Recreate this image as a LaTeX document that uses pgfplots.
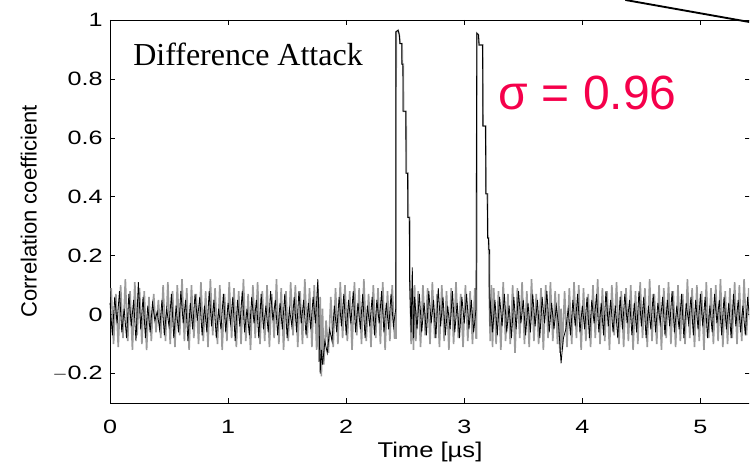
\documentclass[border=0pt]{standalone}
\usepackage{pgfplots}
\pgfplotsset{compat=1.18}
\usepackage{fontspec}
\setmainfont{Liberation Sans}
\newfontfamily\tickfont[FakeStretch=1.3]{Liberation Sans}
\newfontfamily\labfont[FakeStretch=1.2]{Liberation Sans}
\newfontfamily\timesfont{Liberation Serif}
\definecolor{sigred}{RGB}{245,0,75}
\definecolor{trgray}{RGB}{155,155,155}
\begin{document}
\begin{tikzpicture}
\useasboundingbox (-82.5pt,-45.75pt) rectangle (480pt,302.25pt);
\clip (-82.5pt,-45.75pt) rectangle (479.4pt,302.25pt);
\begin{axis}[
  at={(0pt,0pt)}, anchor=south west,
  scale only axis, width=480pt, height=287.25pt,
  xmin=0, xmax=5.42, ymin=-0.3, ymax=1,
  xtick={0,1,2,3,4,5}, ytick={-0.2,0,0.2,0.4,0.6,0.8,1},
  yticklabels={$-$0.2,0,0.2,0.4,0.6,0.8,1},
  tick align=inside, major tick length=4pt,
  tick style={black, line width=0.5pt},
  axis line style={line width=0.6pt},
  /pgf/number format/assume math mode=true,
  ticklabel style={font=\tickfont\fontsize{14.5}{16}\selectfont},
  xticklabel style={yshift=-9pt},
  yticklabel style={xshift=-2pt},
  xlabel={\labfont\fontsize{16}{18}\selectfont Time [µs]},
  ylabel={\fontsize{16.5}{18}\selectfont Correlation coefficient},
  xlabel style={yshift=0.5pt},
  ylabel style={yshift=5pt},
  clip=false,
]
\addplot[trgray, line width=1.2pt] coordinates {
(0.01,0.09)(0.03,-0.10)(0.05,0.07)(0.07,-0.11)(0.09,0.10)(0.11,-0.08)(0.13,0.12)(0.15,-0.09)(0.17,0.08)(0.19,-0.12)
(0.21,0.11)(0.23,-0.07)(0.25,0.09)(0.27,-0.10)(0.29,0.08)(0.31,-0.12)(0.33,0.06)(0.35,-0.09)(0.37,0.07)(0.39,-0.06)
(0.41,0.05)(0.43,-0.08)(0.45,0.10)(0.47,-0.09)(0.49,0.11)(0.51,-0.10)(0.53,0.08)(0.55,-0.11)(0.57,0.10)(0.59,-0.07)
(0.61,0.12)(0.63,-0.09)(0.65,0.09)(0.67,-0.12)(0.69,0.10)(0.71,-0.08)(0.73,0.07)(0.75,-0.10)(0.77,0.11)(0.79,-0.09)
(0.81,0.08)(0.83,-0.11)(0.85,0.12)(0.87,-0.07)(0.89,0.09)(0.91,-0.10)(0.93,0.10)(0.95,-0.12)(0.97,0.07)(0.99,-0.09)
(1.01,0.11)(1.03,-0.08)(1.05,0.09)(1.07,-0.11)(1.09,0.08)(1.11,-0.10)(1.13,0.12)(1.15,-0.09)(1.17,0.07)(1.19,-0.12)
(1.21,0.10)(1.23,-0.08)(1.25,0.11)(1.27,-0.10)(1.29,0.08)(1.31,-0.09)(1.33,0.10)(1.35,-0.11)(1.37,0.07)(1.39,-0.08)
(1.41,0.12)(1.43,-0.10)(1.45,0.09)(1.47,-0.12)(1.49,0.08)(1.51,-0.09)(1.53,0.11)(1.55,-0.07)(1.57,0.10)(1.59,-0.11)
(1.61,0.08)(1.63,-0.10)(1.65,0.12)(1.67,-0.08)(1.69,0.09)(1.71,-0.11)(1.73,0.10)(1.75,-0.12)(1.76,0.10)(1.77,-0.16)
(1.78,0.06)(1.79,-0.21)(1.80,0.02)(1.81,-0.17)(1.83,-0.02)(1.85,-0.13)(1.87,0.06)(1.89,-0.11)(1.91,0.09)(1.93,-0.10)
(1.95,0.11)(1.97,-0.08)(1.99,0.10)(2.01,-0.09)(2.03,0.08)(2.05,-0.12)(2.07,0.11)(2.09,-0.07)(2.11,0.09)(2.13,-0.10)
(2.15,0.12)(2.17,-0.09)(2.19,0.07)(2.21,-0.11)(2.23,0.10)(2.25,-0.08)(2.27,0.09)(2.29,-0.10)(2.31,0.11)(2.33,-0.12)
(2.35,0.08)(2.37,-0.09)(2.39,0.10)(2.41,-0.08)(2.422,-0.08)(2.424,0.96)(2.44,0.965)(2.45,0.95)(2.458,0.92)(2.474,0.92)
(2.476,0.85)(2.484,0.85)(2.486,0.69)(2.508,0.69)(2.51,0.48)(2.524,0.48)(2.526,0.33)(2.538,0.33)(2.54,0.12)
(2.55,-0.10)(2.56,0.09)(2.57,-0.12)(2.58,0.10)(2.59,-0.09)(2.61,0.08)(2.63,-0.11)(2.65,0.10)(2.67,-0.07)(2.69,0.09)
(2.71,-0.10)(2.73,0.11)(2.75,-0.08)(2.77,0.07)(2.79,-0.11)(2.81,0.10)(2.83,-0.09)(2.85,0.08)(2.87,-0.12)(2.89,0.09)
(2.91,-0.10)(2.93,0.11)(2.95,-0.08)(2.97,0.07)(2.99,-0.11)(3.01,0.10)(3.03,-0.09)(3.05,0.08)(3.07,-0.10)(3.09,0.09)
(3.10,-0.08)(3.105,-0.08)(3.107,0.955)(3.12,0.95)(3.127,0.915)(3.157,0.915)(3.16,0.64)(3.182,0.64)(3.185,0.41)(3.197,0.41)
(3.2,0.26)(3.207,0.26)(3.21,0.095)(3.22,-0.09)(3.23,0.10)(3.24,-0.11)(3.25,0.09)(3.27,-0.10)(3.29,0.08)(3.31,-0.12)
(3.33,0.11)(3.35,-0.09)(3.37,0.07)(3.39,-0.10)(3.41,0.10)(3.43,-0.13)(3.45,0.09)(3.47,-0.08)(3.49,0.11)(3.51,-0.10)
(3.53,0.08)(3.55,-0.11)(3.57,0.12)(3.59,-0.09)(3.61,0.07)(3.63,-0.10)(3.65,0.09)(3.67,-0.12)(3.69,0.10)(3.71,-0.08)
(3.73,0.11)(3.75,-0.09)(3.77,0.08)(3.79,-0.10)(3.80,0.07)(3.81,-0.13)(3.82,0.02)(3.83,-0.12)(3.85,0.08)(3.87,-0.11)
(3.89,0.09)(3.91,-0.10)(3.93,0.11)(3.95,-0.08)(3.97,0.10)(3.99,-0.12)(4.01,0.09)(4.03,-0.09)(4.05,0.07)(4.07,-0.11)
(4.09,0.10)(4.11,-0.08)(4.13,0.12)(4.15,-0.10)(4.17,0.09)(4.19,-0.09)(4.21,0.08)(4.23,-0.12)(4.25,0.10)(4.27,-0.07)
(4.29,0.11)(4.31,-0.10)(4.33,0.08)(4.35,-0.11)(4.37,0.09)(4.39,-0.09)(4.41,0.10)(4.43,-0.12)(4.45,0.08)(4.47,-0.10)
(4.49,0.11)(4.51,-0.08)(4.53,0.09)(4.55,-0.11)(4.57,0.12)(4.59,-0.09)(4.61,0.07)(4.63,-0.10)(4.65,0.10)(4.67,-0.12)
(4.69,0.09)(4.71,-0.08)(4.73,0.11)(4.75,-0.10)(4.77,0.08)(4.79,-0.11)(4.81,0.10)(4.83,-0.09)(4.85,0.07)(4.87,-0.10)
(4.89,0.12)(4.91,-0.08)(4.93,0.09)(4.95,-0.11)(4.97,0.10)(4.99,-0.09)(5.01,0.08)(5.03,-0.12)(5.05,0.11)(5.07,-0.08)
(5.09,0.09)(5.11,-0.10)(5.13,0.10)(5.15,-0.09)(5.17,0.12)(5.19,-0.11)(5.21,0.08)(5.23,-0.10)(5.25,0.09)(5.27,-0.08)
(5.29,0.11)(5.31,-0.10)(5.33,0.10)(5.35,-0.09)(5.37,0.12)(5.39,-0.07)(5.41,0.09)
};
\addplot[black, line width=0.6pt] coordinates {
(0.00,0.04)(0.02,-0.07)(0.04,0.06)(0.06,-0.03)(0.08,0.08)(0.10,-0.06)(0.12,0.02)(0.14,-0.08)(0.16,0.07)(0.18,-0.04)
(0.20,0.05)(0.22,-0.09)(0.24,0.11)(0.26,-0.05)(0.28,0.06)(0.30,-0.08)(0.32,0.03)(0.34,-0.06)(0.36,0.04)(0.38,-0.02)
(0.40,0.01)(0.42,-0.05)(0.44,0.05)(0.46,-0.07)(0.48,0.02)(0.50,-0.04)(0.52,0.07)(0.54,-0.08)(0.56,0.03)(0.58,-0.06)
(0.60,0.08)(0.62,-0.03)(0.64,0.05)(0.66,-0.09)(0.68,0.04)(0.70,-0.05)(0.72,0.07)(0.74,-0.02)(0.76,0.06)(0.78,-0.07)
(0.80,0.03)(0.82,-0.06)(0.84,0.08)(0.86,-0.04)(0.88,0.05)(0.90,-0.08)(0.92,0.02)(0.94,-0.05)(0.96,0.07)(0.98,-0.06)
(1.00,0.04)(1.02,-0.03)(1.04,0.06)(1.06,-0.09)(1.08,0.05)(1.10,-0.04)(1.12,0.08)(1.14,-0.06)(1.16,0.02)(1.18,-0.07)
(1.20,0.06)(1.22,-0.03)(1.24,0.05)(1.26,-0.08)(1.28,0.07)(1.30,-0.05)(1.32,0.03)(1.34,-0.06)(1.36,0.08)(1.38,-0.02)
(1.40,0.05)(1.42,-0.07)(1.44,0.04)(1.46,-0.05)(1.48,0.07)(1.50,-0.08)(1.52,0.02)(1.54,-0.04)(1.56,0.06)(1.58,-0.06)
(1.60,0.08)(1.62,-0.03)(1.64,0.05)(1.66,-0.07)(1.68,0.04)(1.70,-0.05)(1.72,0.06)(1.74,-0.03)(1.76,0.12)(1.77,-0.02)
(1.78,-0.20)(1.79,-0.12)(1.80,-0.17)(1.82,-0.09)(1.84,-0.13)(1.86,-0.05)(1.88,-0.09)(1.90,0.03)(1.92,-0.06)(1.94,0.06)
(1.96,-0.04)(1.98,0.07)(2.00,-0.07)(2.02,0.05)(2.04,-0.03)(2.06,0.08)(2.08,-0.06)(2.10,0.04)(2.12,-0.05)(2.14,0.07)
(2.16,-0.08)(2.18,0.03)(2.20,-0.04)(2.22,0.06)(2.24,-0.07)(2.26,0.05)(2.28,-0.03)(2.30,0.08)(2.32,-0.06)(2.34,0.04)
(2.36,-0.05)(2.38,0.07)(2.40,-0.04)(2.42,0.02)(2.421,0.96)(2.44,0.965)(2.45,0.95)(2.455,0.92)(2.47,0.92)(2.472,0.85)
(2.48,0.85)(2.482,0.69)(2.505,0.69)(2.507,0.48)(2.52,0.48)(2.522,0.33)(2.535,0.33)(2.537,0.12)(2.55,-0.06)(2.56,0.16)
(2.57,-0.08)(2.58,0.06)(2.60,-0.05)(2.62,0.07)(2.64,-0.06)(2.66,0.04)(2.68,-0.07)(2.70,0.08)(2.72,-0.03)(2.74,0.05)
(2.76,-0.08)(2.78,0.09)(2.80,-0.04)(2.82,0.06)(2.84,-0.07)(2.86,0.03)(2.88,-0.05)(2.90,0.08)(2.92,-0.06)(2.94,0.04)
(2.96,-0.08)(2.98,0.06)(3.00,-0.03)(3.02,0.07)(3.04,-0.05)(3.06,0.05)(3.08,-0.06)(3.10,0.02)(3.106,0.955)(3.12,0.95)
(3.125,0.915)(3.155,0.915)(3.158,0.64)(3.18,0.64)(3.183,0.41)(3.195,0.41)(3.198,0.26)(3.205,0.26)(3.208,0.22)(3.215,0.22)
(3.218,-0.04)(3.22,0.05)(3.24,-0.06)(3.26,0.05)(3.28,-0.07)(3.30,0.06)(3.32,-0.04)(3.34,0.07)(3.36,-0.06)(3.38,0.03)
(3.40,-0.08)(3.42,0.06)(3.44,-0.05)(3.46,0.08)(3.48,-0.03)(3.50,0.05)(3.52,-0.07)(3.54,0.04)(3.56,-0.06)(3.58,0.07)
(3.60,-0.04)(3.62,0.05)(3.64,-0.08)(3.66,0.06)(3.68,-0.03)(3.70,0.08)(3.72,-0.06)(3.74,0.04)(3.76,-0.05)(3.78,0.03)
(3.80,-0.04)(3.81,-0.10)(3.82,-0.165)(3.83,-0.12)(3.84,-0.08)(3.86,-0.05)(3.88,0.02)(3.90,-0.07)(3.92,0.05)(3.94,-0.04)
(3.96,0.07)(3.98,-0.06)(4.00,0.03)(4.02,-0.05)(4.04,0.06)(4.06,-0.08)(4.08,0.05)(4.10,-0.03)(4.12,0.07)(4.14,-0.06)
(4.16,0.04)(4.18,-0.07)(4.20,0.08)(4.22,-0.04)(4.24,0.05)(4.26,-0.06)(4.28,0.03)(4.30,-0.08)(4.32,0.06)(4.34,-0.05)
(4.36,0.07)(4.38,-0.03)(4.40,0.05)(4.42,-0.07)(4.44,0.04)(4.46,-0.06)(4.48,0.08)(4.50,-0.04)(4.52,0.06)(4.54,-0.08)
(4.56,0.03)(4.58,-0.05)(4.60,0.07)(4.62,-0.06)(4.64,0.04)(4.66,-0.03)(4.68,0.06)(4.70,-0.07)(4.72,0.05)(4.74,-0.04)
(4.76,0.08)(4.78,-0.06)(4.80,0.03)(4.82,-0.05)(4.84,0.07)(4.86,-0.08)(4.88,0.04)(4.90,-0.03)(4.92,0.06)(4.94,-0.07)
(4.96,0.05)(4.98,-0.05)(5.00,0.07)(5.02,-0.04)(5.04,0.06)(5.06,-0.08)(5.08,0.03)(5.10,-0.06)(5.12,0.07)(5.14,-0.03)
(5.16,0.05)(5.18,-0.07)(5.20,0.06)(5.22,-0.05)(5.24,0.04)(5.26,-0.08)(5.28,0.07)(5.30,-0.04)(5.32,0.05)(5.34,-0.06)
(5.36,0.03)(5.38,-0.07)(5.40,0.06)(5.42,-0.03)
};
\node[anchor=base west, inner sep=0pt, font=\timesfont\fontsize{24}{26}\selectfont] at (axis cs:0.195,0.845) {Difference Attack};
\node[anchor=base west, inner sep=0pt, text=sigred, font=\fontsize{36}{38}\selectfont] at (axis cs:3.29,0.695) {σ = 0.96};
\draw[black, line width=1.4pt] (axis cs:4.364,1.068) -- (axis cs:5.6,0.98);
\end{axis}
\end{tikzpicture}
\end{document}
